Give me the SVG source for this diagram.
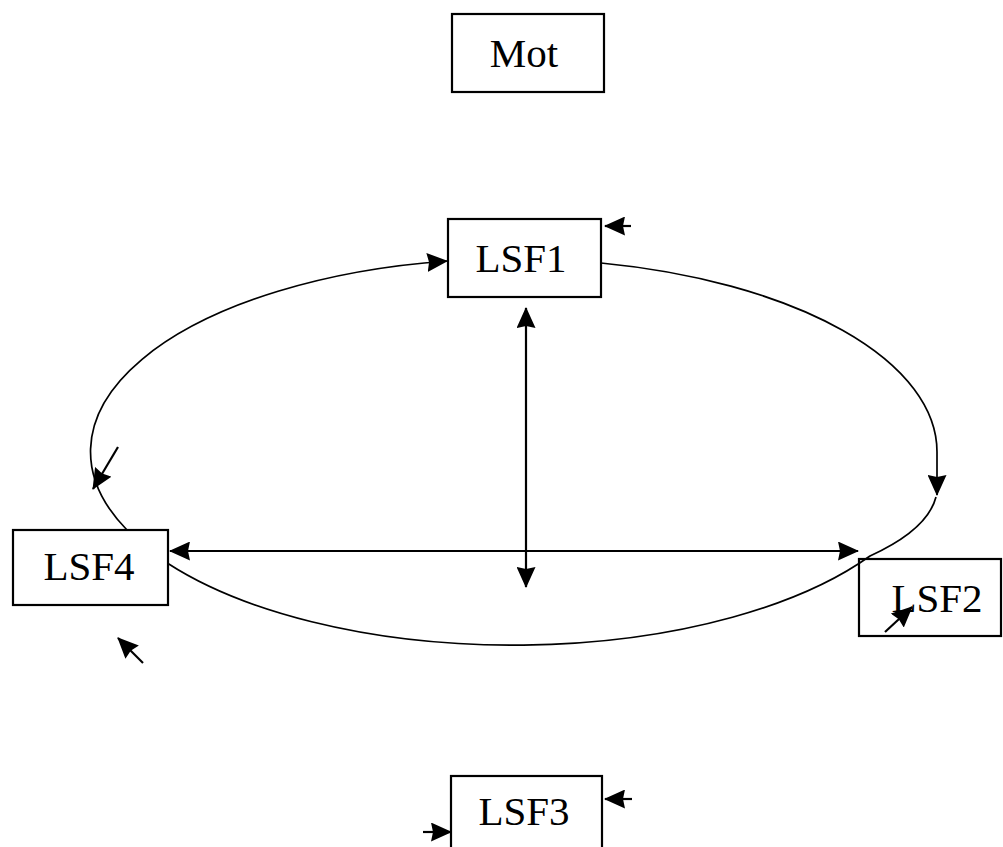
<svg xmlns="http://www.w3.org/2000/svg" width="1003" height="847" viewBox="0 0 1003 847">
<style>
.box{fill:#fff;stroke:#000;stroke-width:2.2}
.lbl{font-family:"Liberation Serif","Times New Roman",serif;font-size:41px;fill:#000;text-anchor:middle}
.ln{fill:none;stroke:#000;stroke-width:2.2}
.cv{fill:none;stroke:#000;stroke-width:1.7}
</style>
<defs>
<marker id="ah" viewBox="0 0 21 19" refX="20" refY="9.5" markerWidth="21" markerHeight="19" markerUnits="userSpaceOnUse" orient="auto-start-reverse">
<path d="M0,0 L21,9.5 L0,19 L2,9.5 z" fill="#000"/>
</marker>
</defs>
<rect width="1003" height="847" fill="#fff"/>
<g id="node-mot"><rect class="box" x="452" y="14" width="152" height="78"/><text class="lbl" x="524" y="67">Mot</text></g>
<g id="node-lsf1"><rect class="box" x="448" y="219" width="153" height="78"/><text class="lbl" x="521" y="272">LSF1</text></g>
<g id="node-lsf4"><rect class="box" x="13" y="530" width="155" height="75"/><text class="lbl" x="89" y="580">LSF4</text></g>
<g id="node-lsf2"><rect class="box" x="859" y="559" width="142" height="77"/><text class="lbl" x="937" y="612">LSF2</text></g>
<g id="node-lsf3"><rect class="box" x="451" y="776" width="151" height="80"/><text class="lbl" x="524" y="825">LSF3</text></g>
<g id="connectors">
<path class="cv" d="M601,263 A423,193 0 0 1 937,452 L937,495" marker-end="url(#ah)"/>
<path class="cv" d="M936,497 C930,520 905,540 870,556 A423,193 0 0 1 168,563.5"/>
<path class="cv" d="M127,530 A423,193 0 0 1 447,261" marker-end="url(#ah)"/>
<line class="ln" x1="526" y1="308" x2="526" y2="587" marker-start="url(#ah)" marker-end="url(#ah)"/>
<line class="ln" x1="170" y1="551" x2="858" y2="551" marker-start="url(#ah)" marker-end="url(#ah)"/>
<line class="ln" x1="631" y1="226" x2="605" y2="226" marker-end="url(#ah)"/>
<line class="ln" x1="632" y1="799" x2="605" y2="799" marker-end="url(#ah)"/>
<line class="ln" x1="423" y1="832" x2="451" y2="832" marker-end="url(#ah)"/>
<line class="ln" x1="143" y1="663" x2="118" y2="638" marker-end="url(#ah)"/>
<line class="ln" x1="118" y1="447" x2="93" y2="489" marker-end="url(#ah)"/>
<line class="ln" x1="885" y1="632" x2="912" y2="607" marker-end="url(#ah)"/>
</g>
</svg>
